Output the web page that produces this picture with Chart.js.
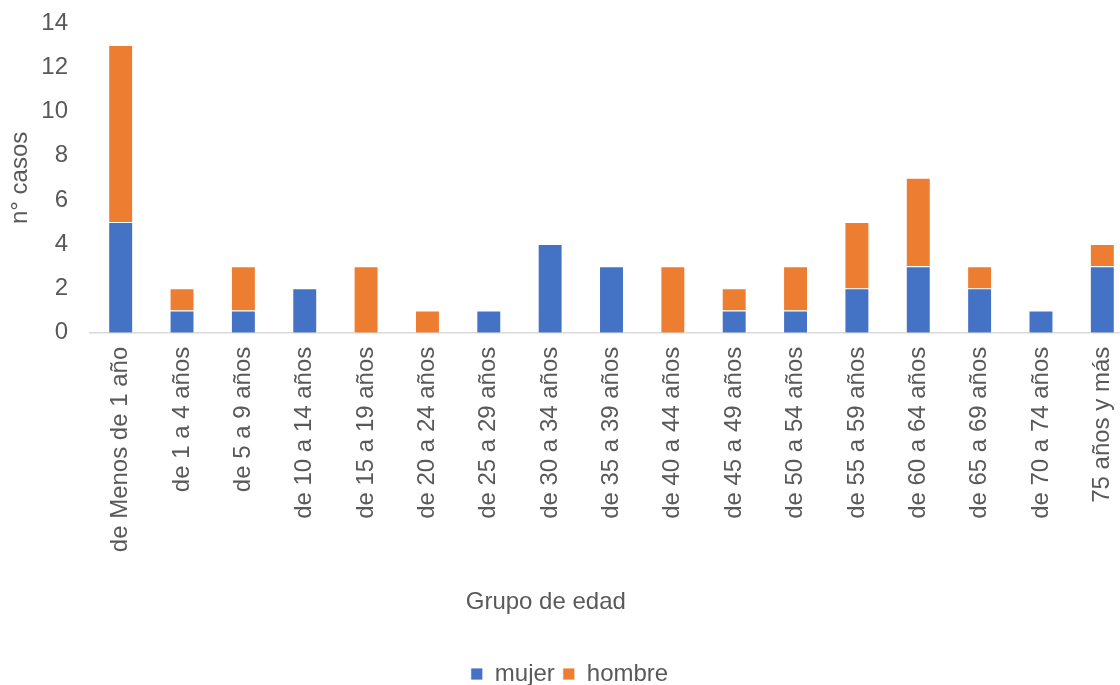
<!DOCTYPE html>
<html>
<head>
<meta charset="utf-8">
<script src="https://cdn.jsdelivr.net/npm/chart.js@4/dist/chart.umd.min.js"></script>
<style>
  html, body { margin: 0; padding: 0; background: #fff; overflow: hidden; }
  /* el gráfico original está recortado a la derecha */
  #wrap { width: 1144px; height: 685px; position: relative; }
</style>
</head>
<body>
<div id="wrap"><canvas id="chart"></canvas></div>
<script>
// grupos de edad
const categorias = [
    'de Menos de 1 año', 'de 1 a 4 años', 'de 5 a 9 años', 'de 10 a 14 años',
    'de 15 a 19 años', 'de 20 a 24 años', 'de 25 a 29 años', 'de 30 a 34 años',
    'de 35 a 39 años', 'de 40 a 44 años', 'de 45 a 49 años', 'de 50 a 54 años',
    'de 55 a 59 años', 'de 60 a 64 años', 'de 65 a 69 años', 'de 70 a 74 años',
    '75 años y más'
];
const mujer  = [5, 1, 1, 2, 0, 0, 1, 4, 3, 0, 1, 1, 2, 3, 2, 1, 3];
const hombre = [8, 1, 2, 0, 3, 1, 0, 0, 0, 3, 1, 2, 3, 4, 1, 0, 1];
const ticksY = [0, 2, 4, 6, 8, 10, 12, 14];

const gris = '#595959';
const fuente = "'Liberation Sans', Arial, sans-serif";
const tituloX = 'Grupo de edad';

// --- titulo del eje X desplazado (como en el original de Excel) ---
const tituloEjeX = {
    id: 'tituloEjeX',
    afterDraw(chart) {
        const x = chart.scales.x;
        const opts = x.options.title;
        const ctx = chart.ctx;
        const y = x.bottom - opts.padding.bottom - 14.4;
        const cx = x.left + (x.right - x.left) * 0.437;
        ctx.save();
        ctx.font = "24px 'Liberation Sans', Arial, sans-serif";
        ctx.fillStyle = gris;
        ctx.textAlign = 'center';
        ctx.textBaseline = 'middle';
        ctx.fillText(tituloX, cx, y);
        ctx.restore();
    }
};

new Chart(document.getElementById('chart'), {
    type: 'bar',
    data: {
        labels: categorias,
        datasets: [
            { label: 'mujer', data: mujer, backgroundColor: '#4472C4', borderColor: '#fff', borderWidth: 0.8, borderSkipped: 'bottom' },
            { label: 'hombre', data: hombre, backgroundColor: '#ED7D31', borderColor: '#fff', borderWidth: 0.8, borderSkipped: 'bottom' }
        ]
    },
    plugins: [tituloEjeX],
    options: {
        responsive: true,
        maintainAspectRatio: false,
        animation: false,
        layout: { autoPadding: false, padding: { left: 6, right: 11, top: 23, bottom: -11 } },
        datasets: { bar: { barPercentage: 0.4, categoryPercentage: 1 } },
        plugins: {
            legend: {
                position: 'bottom',
                labels: {
                    color: gris, font: { family: fuente, size: 24 },
                    boxWidth: 12, boxHeight: 12, padding: 8
                }
            },
            tooltip: { enabled: false }
        },
        scales: {
            x: {
                stacked: true,
                grid: { display: false },
                border: { display: true, color: '#D9D9D9', width: 1.5 },
                ticks: {
                    color: gris, font: { family: fuente, size: 24 },
                    minRotation: 90, maxRotation: 90, autoSkip: false, padding: 6
                },
                title: {
                    display: true, text: tituloX, color: 'rgba(0,0,0,0)',
                    font: { family: fuente, size: 24 },
                    padding: { top: 30, bottom: 37 }
                }
            },
            y: {
                stacked: true,
                min: 0, max: 14,
                afterBuildTicks: (axis) => { axis.ticks = ticksY.map(v => ({ value: v })); },
                afterFit: (axis) => {
                    axis.width = 84;
                    axis.paddingTop = 0;
                },
                grid: { display: false },
                border: { display: false },
                ticks: { color: gris, font: { family: fuente, size: 24 }, padding: 14 },
                title: {
                    display: true, text: 'n° casos', color: gris,
                    font: { family: fuente, size: 24 }, padding: { top: 0, bottom: 10 }
                }
            }
        }
    }
});
</script>
</body>
</html>
